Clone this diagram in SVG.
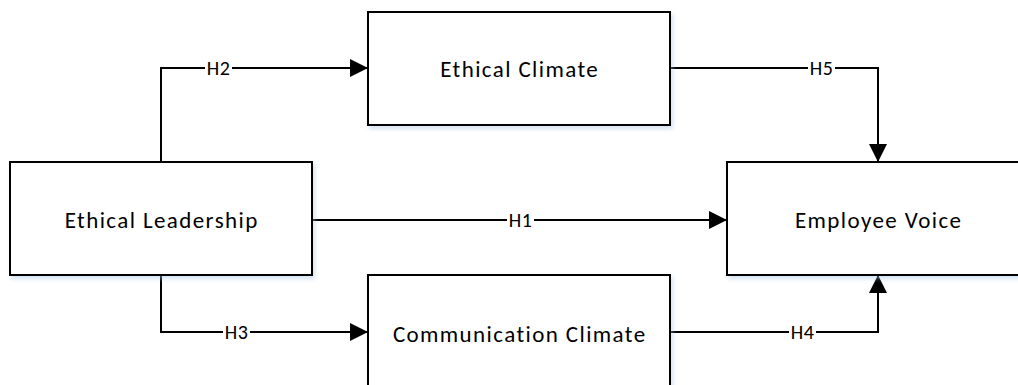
<svg xmlns="http://www.w3.org/2000/svg" width="1018" height="385" viewBox="0 0 1018 385">
  <defs>
    <filter id="shadow" x="-10%" y="-10%" width="130%" height="140%">
      <feDropShadow dx="2" dy="3" stdDeviation="2" flood-color="#9dbfe0" flood-opacity="0.45"/>
    </filter>
    <marker id="arrow" viewBox="0 0 18 18" refX="18" refY="9" markerWidth="18" markerHeight="18" markerUnits="userSpaceOnUse" orient="auto">
      <path d="M0,0 L18,9 L0,18 Z" fill="#000"/>
    </marker>
  </defs>
  <style>
    .box { fill: #fff; stroke: #000; stroke-width: 2; filter: url(#shadow); }
    .node-text { font-family: Calibri, Carlito, Lato, sans-serif; font-size: 23px; letter-spacing: 1.4px; fill: #000; text-anchor: middle; }
    .conn { fill: none; stroke: #000; stroke-width: 2; marker-end: url(#arrow); }
    .lbl-bg { fill: #fff; }
    .lbl { font-family: Calibri, Carlito, Lato, sans-serif; font-size: 20px; letter-spacing: 0.5px; fill: #000; text-anchor: middle; }
  </style>
  <rect width="1018" height="385" fill="#fff"/>

  <g id="connectors">
    <path class="conn" d="M161,162 V68 H368"/>
    <path class="conn" d="M312,220 H727"/>
    <path class="conn" d="M161,275 V332 H368"/>
    <path class="conn" d="M670,68 H878 V162"/>
    <path class="conn" d="M670,332 H878 V275"/>
    <g id="labels">
      <rect class="lbl-bg" x="205" y="59" width="27" height="18"/>
      <text class="lbl" x="218.5" y="75">H2</text>
      <rect class="lbl-bg" x="507" y="211" width="27" height="18"/>
      <text class="lbl" x="520.5" y="227">H1</text>
      <rect class="lbl-bg" x="223" y="323" width="27" height="18"/>
      <text class="lbl" x="236.5" y="339">H3</text>
      <rect class="lbl-bg" x="808" y="59" width="27" height="18"/>
      <text class="lbl" x="821.5" y="75">H5</text>
      <rect class="lbl-bg" x="789" y="323" width="27" height="18"/>
      <text class="lbl" x="802.5" y="339">H4</text>
    </g>
  </g>

  <g id="node-ethical-leadership">
    <rect class="box" x="10" y="162" width="302" height="113"/>
    <text class="node-text" x="161.7" y="228">Ethical Leadership</text>
  </g>
  <g id="node-ethical-climate">
    <rect class="box" x="368" y="12" width="302" height="113"/>
    <text class="node-text" x="519.7" y="77">Ethical Climate</text>
  </g>
  <g id="node-communication-climate">
    <rect class="box" x="368" y="275" width="302" height="113"/>
    <text class="node-text" x="519.7" y="341.5">Communication Climate</text>
  </g>
  <g id="node-employee-voice">
    <rect class="box" x="727" y="162" width="302" height="113"/>
    <text class="node-text" x="878.7" y="228">Employee Voice</text>
  </g>
</svg>
